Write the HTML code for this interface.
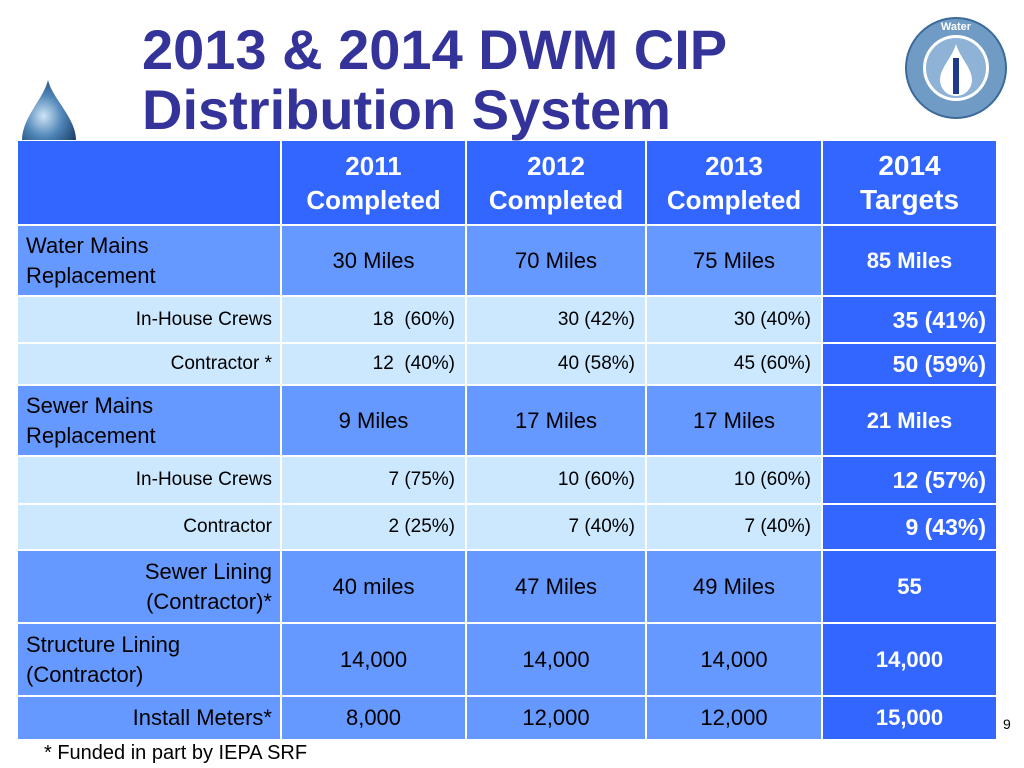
<!DOCTYPE html>
<html><head><meta charset="utf-8"><style>
body{margin:0;width:1024px;height:768px;background:#fff;position:relative;overflow:hidden;font-family:"Liberation Sans",sans-serif}
.t{position:absolute;left:142px;color:#333399;font-weight:bold;font-size:56px;line-height:60px}
.c{position:absolute;box-sizing:border-box;display:flex;align-items:center;color:#000;font-size:22px;line-height:30px}
.sub{font-size:19px}
.tg{color:#fff;font-weight:bold;background:#3366ff !important}
</style></head><body>
<div class="t" style="top:20px">2013 &amp; 2014 DWM CIP<br>Distribution System</div>
<svg style="position:absolute;left:20px;top:78px" width="60" height="62"><defs><radialGradient id="g" cx="0.4" cy="0.6" r="0.7"><stop offset="0" stop-color="#cfe4f5"/><stop offset="0.5" stop-color="#4f86b8"/><stop offset="1" stop-color="#1b3f6a"/></radialGradient></defs><path d="M28,2 C32,20 56,40 56,62 L2,62 C2,40 24,20 28,2Z" fill="url(#g)"/></svg>
<svg style="position:absolute;left:904px;top:16px" width="104" height="104"><circle cx="52" cy="52" r="50" fill="#6f9bc4" stroke="#3c6a99" stroke-width="2"/><circle cx="52" cy="52" r="33" fill="#fff"/><circle cx="52" cy="52" r="30" fill="#8fb3d6"/><path d="M52,28 C56,42 68,52 68,64 A16,16 0 0 1 36,64 C36,52 48,42 52,28Z" fill="#fff"/><rect x="49" y="42" width="6" height="36" fill="#1e3a8a"/><text x="52" y="14" font-size="11" font-weight="bold" fill="#fff" text-anchor="middle" font-family="Liberation Sans">Water</text></svg>
<div id="tbl"></div>
<div style="position:absolute;left:44px;top:742px;font-size:20px">* Funded in part by IEPA SRF</div>
<div style="position:absolute;left:1003px;top:716px;font-size:14px">9</div>
<script>
const colX=[18,282,467,647,823,998];
const rowY=[141,226,297,344,386,457,505,551,624,697,741];
const headers=["","2011<br>Completed","2012<br>Completed","2013<br>Completed","2014<br>Targets"];
const rows=[
["Water Mains<br>Replacement","30 Miles","70 Miles","75 Miles","85 Miles","main"],
["In-House Crews","18&nbsp; (60%)","30 (42%)","30 (40%)","35 (41%)","sub"],
["Contractor *","12&nbsp; (40%)","40 (58%)","45 (60%)","50 (59%)","sub"],
["Sewer Mains<br>Replacement","9 Miles","17 Miles","17 Miles","21 Miles","main"],
["In-House Crews","7 (75%)","10 (60%)","10 (60%)","12 (57%)","sub"],
["Contractor","2 (25%)","7 (40%)","7 (40%)","9 (43%)","sub"],
["Sewer Lining<br>(Contractor)*","40 miles","47 Miles","49 Miles","55","mainr"],
["Structure Lining<br>(Contractor)","14,000","14,000","14,000","14,000","main"],
["Install Meters*","8,000","12,000","12,000","15,000","mainr"]];
const T=document.getElementById('tbl');
function cell(x0,x1,y0,y1,html,cls,bg,align,pad){
 const d=document.createElement('div');
 d.className='c '+cls;
 d.style.cssText=`left:${x0}px;top:${y0}px;width:${x1-x0-2}px;height:${y1-y0-2}px;background:${bg};justify-content:${align};text-align:${align=='flex-end'?'right':align=='center'?'center':'left'};padding:0 ${pad}px`;
 d.innerHTML=html;T.appendChild(d);return d;}
for(let c=0;c<5;c++){
 const d=cell(colX[c],colX[c+1],rowY[0],rowY[1],headers[c],'',"#3366ff",'center',0);
 d.style.color='#fff';d.style.fontWeight='bold';d.style.fontSize=c==4?'28px':'26px';d.style.lineHeight='34px';
 
 
}
rows.forEach((r,i)=>{
 const y0=rowY[i+1],y1=rowY[i+2],kind=r[5],sub=kind=='sub';
 const bg=sub?'#cce8ff':'#6699ff';
 for(let c=0;c<5;c++){
  let align,pad=8;
  if(c==0) align=(kind=='main')?'flex-start':'flex-end';
  else if(sub) align='flex-end';
  else align='center';
  if(c==4&&sub){align='flex-end';}
  const d=cell(colX[c],colX[c+1],y0,y1,r[c],(sub?'sub':'')+(c==4?' tg':''),bg,align,c==0?8:10);
  if(c==4){d.style.fontSize='22px';if(sub)d.style.fontSize='23px';}
  
  
 }
});
</script>
</body></html>
